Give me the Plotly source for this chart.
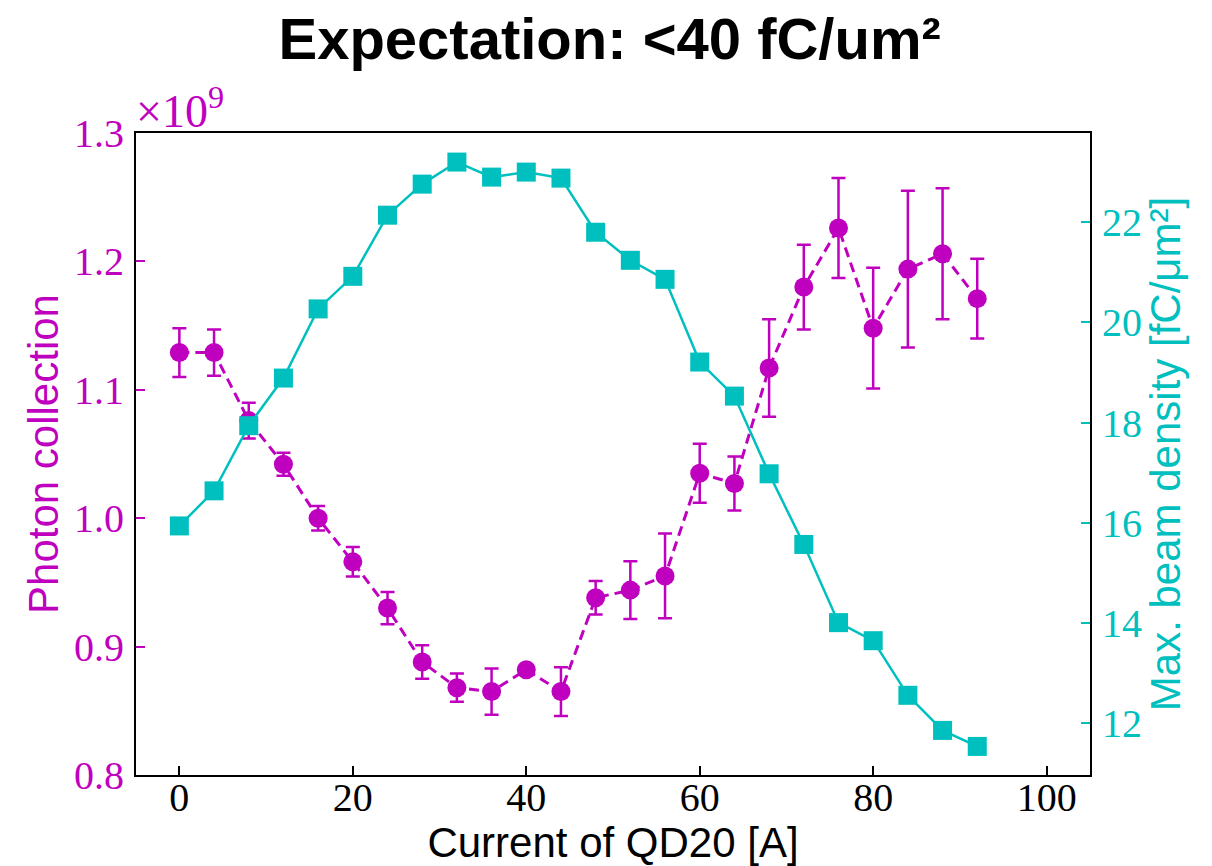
import plotly.graph_objects as go

# Data
current = [0, 4, 8, 12, 16, 20, 24, 28, 32, 36, 40, 44, 48, 52, 56, 60, 64, 68, 72, 76, 80, 84, 88, 92]
photon = [1.129, 1.129, 1.076, 1.042, 1.000, 0.966, 0.930, 0.888, 0.868, 0.865, 0.882, 0.865,
          0.938, 0.944, 0.955, 1.035, 1.027, 1.117, 1.180, 1.226, 1.148, 1.194, 1.206, 1.171]
photon_err = [0.019, 0.018, 0.014, 0.009, 0.0095, 0.0115, 0.0125, 0.013, 0.011, 0.018, 0.003, 0.019,
              0.013, 0.0225, 0.033, 0.023, 0.021, 0.038, 0.033, 0.039, 0.047, 0.061, 0.051, 0.031]
density = [15.94, 16.64, 17.94, 18.89, 20.27, 20.92, 22.14, 22.76, 23.20, 22.90, 23.00, 22.88,
           21.80, 21.24, 20.86, 19.21, 18.53, 16.98, 15.57, 14.01, 13.65, 12.56, 11.86, 11.54]

x_ticks = [0, 20, 40, 60, 80, 100]
y_ticks = [0.8, 0.9, 1.0, 1.1, 1.2, 1.3]
y2_ticks = [12, 14, 16, 18, 20, 22]

MAG = "#bf00bf"
CYA = "#00bfbf"
SERIF = "Liberation Serif, Times New Roman, serif"
SANS = "Liberation Sans, Arial, sans-serif"

fig = go.Figure()
fig.add_trace(go.Scatter(
    x=current, y=photon, mode="lines+markers",
    line=dict(color=MAG, width=3, dash="10px,6px"),
    marker=dict(color=MAG, size=19, symbol="circle"),
    error_y=dict(type="data", array=photon_err, visible=True, color=MAG, thickness=2.5, width=7),
    yaxis="y", showlegend=False,
))
fig.add_trace(go.Scatter(
    x=current, y=density, mode="lines+markers",
    line=dict(color=CYA, width=2.5),
    marker=dict(color=CYA, size=19, symbol="square"),
    yaxis="y2", showlegend=False,
))

fig.update_layout(
    width=1212, height=866,
    margin=dict(l=136, r=122, t=133, b=91),
    plot_bgcolor="white", paper_bgcolor="white",
    title=dict(text="<b>Expectation: <40 fC/um²</b>", x=0.503, xanchor="center", y=0.955, yanchor="middle",
               font=dict(family=SANS, size=58, color="black")),
    xaxis=dict(
        range=[-5, 105], tickvals=x_ticks, ticks="inside", ticklen=9, tickwidth=1.5, tickcolor="black",
        showline=True, linecolor="black", linewidth=2, mirror=True, showgrid=False, zeroline=False,
        automargin=False,
        tickfont=dict(family=SERIF, size=40, color="black"), ticklabelstandoff=-14,
        title=dict(text="Current of QD20 [A]", font=dict(family=SANS, size=42, color="black"), standoff=0),
    ),
    yaxis=dict(
        range=[0.8, 1.3], tickvals=y_ticks, ticktext=[f"{v:.1f}" for v in y_ticks],
        ticks="inside", ticklen=9, tickwidth=1.5, tickcolor=MAG, automargin=False,
        showline=True, linecolor="black", linewidth=2, showgrid=False, zeroline=False,
        tickfont=dict(family=SERIF, size=40, color=MAG), ticklabelstandoff=2,
        title=dict(text="Photon collection", font=dict(family=SANS, size=42, color=MAG), standoff=2),
    ),
    yaxis2=dict(
        range=[10.97, 23.78], tickvals=y2_ticks, overlaying="y", side="right",
        ticks="inside", ticklen=9, tickwidth=1.5, tickcolor=CYA, automargin=False,
        showline=True, linecolor="black", linewidth=2, showgrid=False, zeroline=False,
        tickfont=dict(family=SERIF, size=40, color=CYA), ticklabelstandoff=2,
        title=dict(text="Max. beam density [fC/μm²]", font=dict(family=SANS, size=42, color=CYA), standoff=8),
    ),
    annotations=[dict(
        text="×10<sup>9</sup>", xref="paper", yref="paper", x=0.0, y=1.0,
        xanchor="left", yanchor="bottom", showarrow=False,
        font=dict(family=SERIF, size=46, color=MAG), xshift=-2, yshift=-6,
    )],
)

fig.write_html("out.html")
